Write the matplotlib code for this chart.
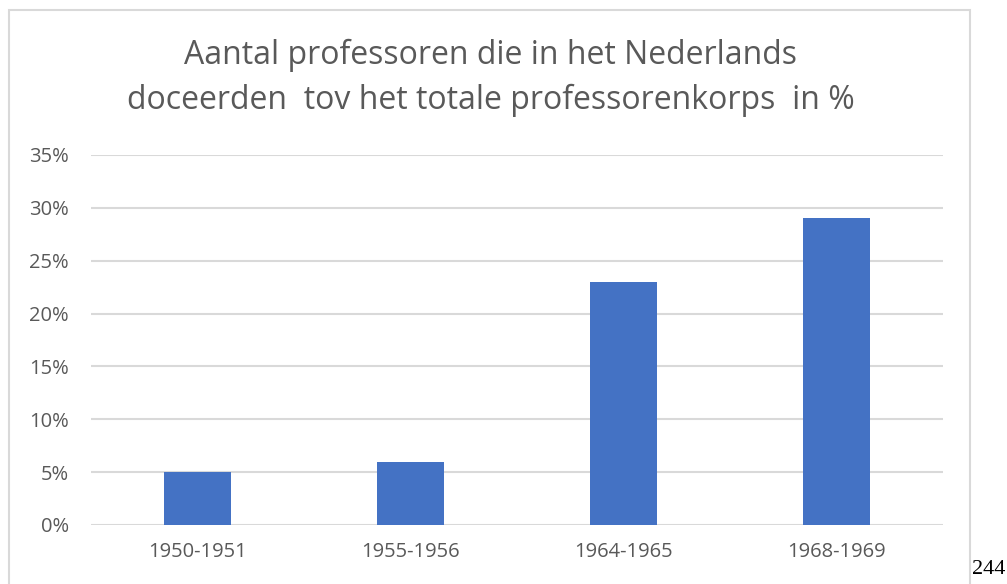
import matplotlib
matplotlib.use("Agg")
from matplotlib import pyplot as plt
from matplotlib.patches import Rectangle
from matplotlib.ticker import FuncFormatter

periodes = ["1950-1951", "1955-1956", "1964-1965", "1968-1969"]
percentages = [5, 6, 23, 29]
yticks = [0, 5, 10, 15, 20, 25, 30, 35]

W, H = 1007, 584
fig = plt.figure(figsize=(W / 100, H / 100), dpi=100)
plt.rcParams['font.family'] = ['Open Sans', 'DejaVu Sans']

# kader rond de grafiek (loopt onder de rand door)
fig.patches.append(Rectangle((9 / W, -0.05), (970 - 9) / W, 1.05 - 10 / H,
                             transform=fig.transFigure, fill=False,
                             edgecolor='#d9d9d9', linewidth=1.5))

ax = fig.add_axes([91 / W, 1 - 525 / H, (943 - 91) / W, (525 - 155) / H])
x = range(len(periodes))
ax.bar(x, percentages, width=0.31, color='#4472c4', zorder=3)
ax.set_xlim(-0.5, len(periodes) - 0.5)
ax.set_ylim(0, 35)
ax.set_yticks(yticks)
ax.yaxis.set_major_formatter(FuncFormatter(lambda v, p: f"{v:.0f}%"))
ax.set_xticks(list(x))
ax.set_xticklabels(periodes)
ax.grid(axis='y', color='#d9d9d9', linewidth=1.5, zorder=0)
for s in ax.spines.values():
    s.set_visible(False)
ax.tick_params(length=0, labelsize=14.5, labelcolor='#595959')
ax.tick_params(axis='y', pad=16)
ax.tick_params(axis='x', pad=12)

fig.text(491 / W, 1 - 78 / H,
         "Aantal professoren die in het Nederlands\ndoceerden  tov het totale professorenkorps  in %",
         ha='center', va='center', fontsize=23, color='#595959', linespacing=1.45)

fig.text(972 / W, 1 - 570 / H, "244", family='Liberation Serif', fontsize=16,
         color='black', va='center', ha='left')

fig.savefig("out.png", dpi=100)
